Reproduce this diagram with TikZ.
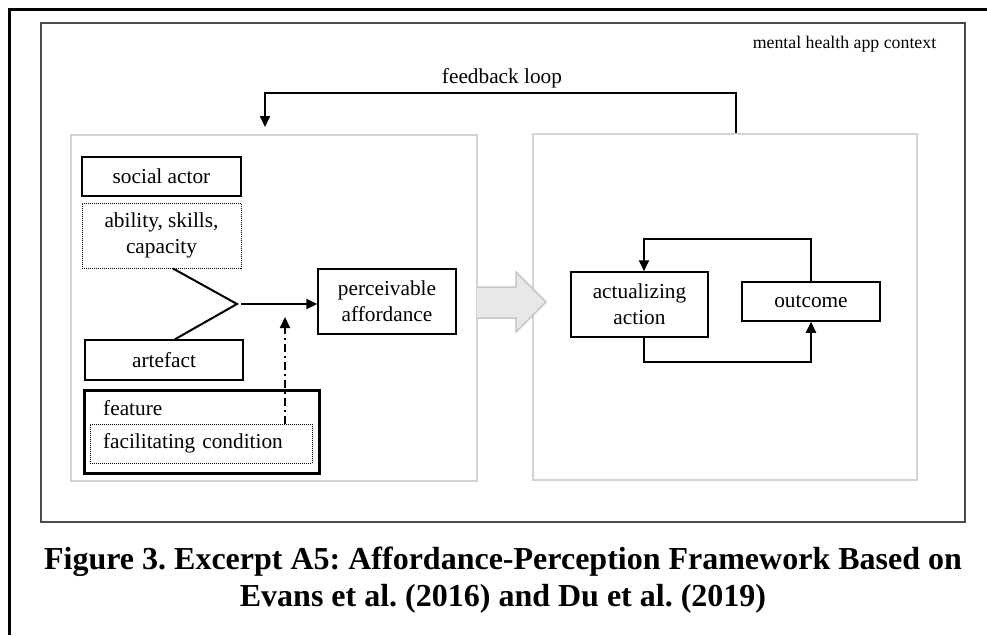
\documentclass[tikz,border=0pt]{standalone}
\usepackage{fontspec}
\setmainfont{Liberation Serif}
\usetikzlibrary{arrows.meta}
\frenchspacing
\tikzset{
  box/.style={draw, line width=1.5pt, inner sep=0pt, align=center, font=\fontsize{21.3}{26}\selectfont},
  dotbox/.style={box, line width=1pt, dash pattern=on 1pt off 1pt},
  panel/.style={draw=black!17, line width=2pt, inner sep=0pt},
  lbl/.style={inner sep=0pt, font=\fontsize{21.3}{26}\selectfont},
  small/.style={inner sep=0pt, font=\fontsize{17.8}{20}\selectfont},
  caption/.style={inner sep=0pt, font=\fontsize{32}{37}\selectfont\bfseries},
  conn/.style={line width=2pt, -{Triangle[length=11pt,width=10pt]}},
}
\begin{document}
\begin{tikzpicture}[x=1pt,y=-1pt]
      \useasboundingbox (0,0) rectangle (987,635);
      %frame
      \draw[line width=3pt] (9,635) -- (9,9) -- (987,9);
      \draw[draw=black!70, line width=1.5pt] (41,23) rectangle (965,522);
      \node[small, anchor=base] (ctx) at (844.5,48) {mental health app context};
      %panels
      \node[panel, minimum width=406, minimum height=346] (panL) at (274,308) {};
      \node[panel, minimum width=384, minimum height=346] (panR) at (725,307) {};
      %feedback loop
      \coordinate (fbR) at (736,93);
      \coordinate (fbL) at (265,93);
      \coordinate (fbend) at (265,127);
      \draw[conn] (fbR |- panR.north) -- (fbR) -- (fbL) -- (fbend);
      \node[lbl, anchor=base] (fbtxt) at (502,83) {feedback loop};
      %left panel
      \node[box, minimum width=159, minimum height=39] (actor) at (161.5,176.5) {social actor};
      \node[dotbox, minimum width=159, minimum height=65] (abil) at (161.5,235.5) {ability, skills,\\capacity};
      \node[box, minimum width=158, minimum height=40] (art) at (164,360) {artefact};
      \node[box, line width=3pt, minimum width=235, minimum height=83] (feat) at (201.5,431.5) {};
      \node[lbl, anchor=base west] (featlbl) at (103,415) {feature};
      \node[dotbox, minimum width=222, minimum height=39, inner xsep=13pt, text width=196pt, align=left] (facil) at (201,443.5) {facilitating condition};
      \node[box, minimum width=138, minimum height=65] (perc) at (387,301.5) {perceivable\\affordance};
      \coordinate (vj) at (237,304);
      \draw[line width=2pt] ([xshift=11.5pt]abil.south) -- (vj) -- ([xshift=11pt]art.north);
      \draw[conn] ([xshift=4pt]vj) -- (vj -| perc.west);
      \coordinate (tipfc) at (285,317);
      \draw[conn, dash pattern=on 8pt off 4pt on 2pt off 4pt] (facil.north -| tipfc) -- (tipfc);
      %big arrow
      \draw[fill=black!9, draw=black!22, line width=1.5pt] (477,287) -- (516,287) -- (516,272) -- (546,302) -- (516,332) -- (516,318) -- (477,318);
      %right panel
      \node[box, minimum width=137, minimum height=65] (act) at (639.5,304.5) {actualizing\\action};
      \node[box, minimum width=138, minimum height=39] (outc) at (811,301.5) {outcome};
      \coordinate (looptop) at (644,239);
      \coordinate (loopbot) at (644,362);
      \draw[conn] (outc.north) |- (looptop) -- (looptop |- act.north);
      \draw[conn] (loopbot |- act.south) -- (loopbot) -| (outc.south);
      %caption
      \node[caption, anchor=base] (cap1) at (503,569) {Figure 3. Excerpt A5: Affordance-Perception Framework Based on};
      \node[caption, anchor=base] (cap2) at (503,606) {Evans et al. (2016) and Du et al. (2019)};
\end{tikzpicture}
\end{document}
